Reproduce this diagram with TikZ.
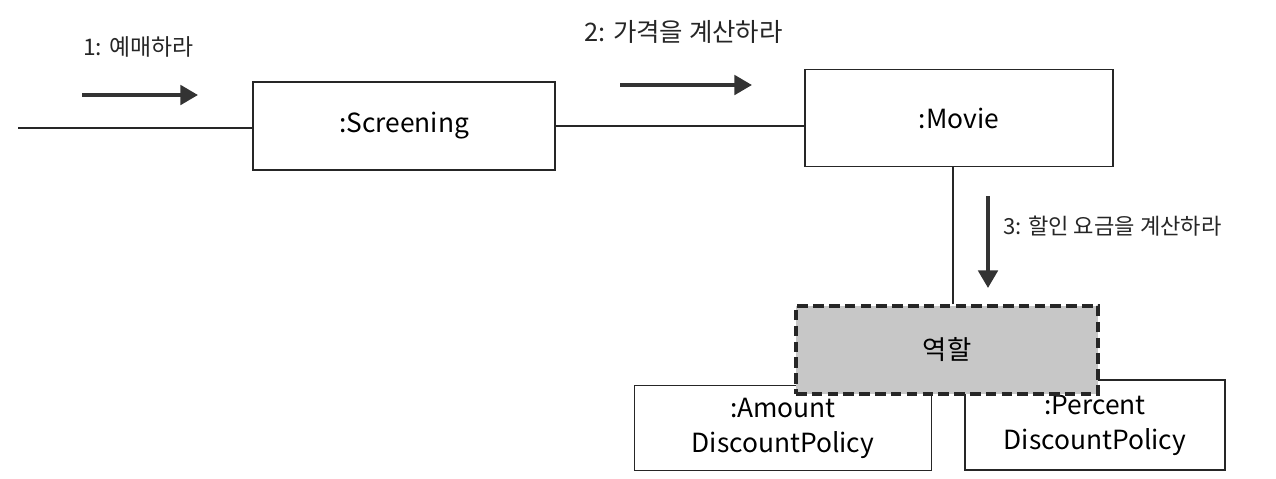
\documentclass[tikz,border=0pt]{standalone}
\usepackage{fontspec}
\setmainfont{Noto Sans CJK KR}
\usetikzlibrary{arrows.meta}
\tikzset{
objbox/.style={draw=black!85, line width=1.1pt, fill=white, minimum width=6.04cm, minimum height=1.76cm, font=\fontsize{15}{20}\selectfont, align=center},
rolebox/.style={objbox, fill=black!22, dashed, dash pattern=on 6pt off 3pt, line width=2pt},
link/.style={draw=black!85, line width=1.1pt},
msg/.style={draw=black!80, line width=2.2pt, -{Triangle[length=10pt,width=11pt]}},
msglabel/.style={font=\fontsize{13}{15}\selectfont, text=black!85}
}
\begin{document}
\begin{tikzpicture}[x=0.02cm,y=-0.02cm]
\useasboundingbox (0,0) rectangle (1276,478);
\node[objbox] (screening) at (404,126) {:Screening};
\node[objbox, minimum width=6.16cm, minimum height=1.94cm] (movie) at (959,118) {:Movie};
\node[objbox, minimum width=5.94cm, minimum height=1.7cm] (amount) at (783,428) {:Amount\\DiscountPolicy};
\node[objbox, minimum width=5.2cm, minimum height=1.8cm] (percent) at (1095,425) {:Percent\\DiscountPolicy};
\node[rolebox] (role) at (947,350) {역할};
\coordinate (start) at (18,128);
\draw[link] (start) -- (screening.west |- start);
\draw[link] (screening) -- (movie.west |- screening);
\draw[link] (role.north -| 953,0) -- (movie.south -| 953,0);
% messages
\coordinate (m1a) at (82,95);
\coordinate (m1b) at (198,95);
\coordinate (m2a) at (620,85);
\coordinate (m2b) at (752,85);
\coordinate (m3a) at (988,196);
\coordinate (m3b) at (988,288);
\draw[msg] (m1a) -- (m1b);
\draw[msg] (m2a) -- (m2b);
\draw[msg] (m3a) -- (m3b);
\node[msglabel, anchor=west] (l1) at (77,47) {1: 예매하라};
\node[msglabel, anchor=west, font=\fontsize{14.5}{17}\selectfont] (l2) at (578,32) {2: 가격을 계산하라};
\node[msglabel, anchor=west, font=\fontsize{12.6}{15}\selectfont] (l3) at (997,226) {3: 할인 요금을 계산하라};
\end{tikzpicture}
\end{document}
